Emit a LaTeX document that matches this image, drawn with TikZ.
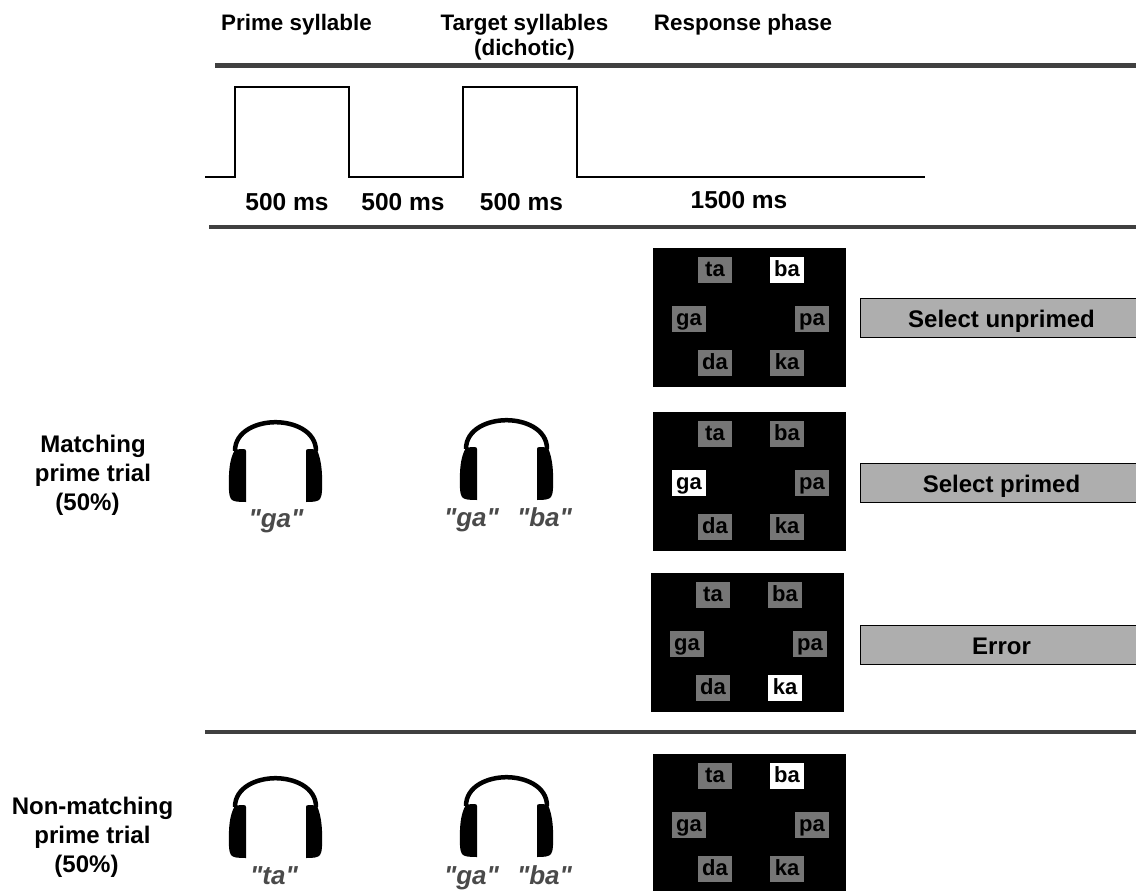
\documentclass[tikz,border=0pt]{standalone}
\usepackage{fontspec}
\setmainfont{Liberation Sans}[Ligatures=TeXOff]
\usepackage{xcolor}
\definecolor{rulegray}{HTML}{404040}
\definecolor{chipgray}{HTML}{767676}
\definecolor{bargray}{HTML}{AEAEAE}
\definecolor{speechgray}{HTML}{4A4A4A}
\tikzset{
  heading/.style={font=\fontsize{22.4}{25}\selectfont\bfseries, align=center, inner sep=0pt, anchor=base},
  duration/.style={font=\fontsize{24.5}{26}\selectfont\bfseries, inner sep=0pt, anchor=base},
  trial/.style={font=\fontsize{24}{29}\selectfont\bfseries, align=center, inner sep=0pt, anchor=base},
  speech/.style={font=\fontsize{26}{28}\selectfont\bfseries\itshape, text=speechgray, inner sep=0pt, anchor=base},
  chip/.style={fill=chipgray, minimum width=34pt, inner sep=0pt, text height=19pt, text depth=7pt, font=\fontsize{22}{24}\selectfont\bfseries},
  outcome/.style={draw=black, line width=0.7pt, fill=bargray, minimum width=283pt, inner sep=0pt, text height=28.5pt, text depth=10.5pt, font=\fontsize{24}{26}\selectfont\bfseries},
}
\begin{document}
\begin{tikzpicture}[x=1pt,y=-1pt]
  \useasboundingbox (0,0) rectangle (1136,891);
  % header
  \node[heading] (primehead) at (296.5,31) {Prime syllable};
  \node[heading] (targethead) at (524.5,56) {Target syllables\\(dichotic)};
  \node[heading] (resphead) at (743,31) {Response phase};
  \foreach \rx/\ry in {215/65.5,209/227,205/732}{ \draw[rulegray,line width=4.5pt] (\rx,\ry) -- (1136,\ry); }
  % timeline
  \draw[line width=2pt,line join=miter] (205,177) -- (235,177) -- (235,87) -- (349,87) -- (349,177) -- (463,177) -- (463,87) -- (577,87) -- (577,177) -- (925,177);
  \node[duration] (durone) at (287,210) {500 ms};
  \node[duration] (durtwo) at (403,210) {500 ms};
  \node[duration] (durthree) at (521.5,210) {500 ms};
  \node[duration] (durfour) at (739,208) {1500 ms};
  % trial labels
  \node[trial] (matching) at (93,510) {Matching\\prime trial\\\hspace*{-11pt}(50\%)};
  \node[trial] (nonmatching) at (92.5,872) {Non-matching\\prime trial\\\hspace*{-12pt}(50\%)};
  % headphones
  \foreach \hx/\hy in {229/420,460/418,229/776,460/775}{
    \begin{scope}[shift={(\hx,\hy)}]
      \draw[line width=4.5pt] (6,31) .. controls (6,11) and (28,2.2) .. (46.5,2.2) .. controls (65,2.2) and (87,11) .. (87,31);
      \fill (17,31) .. controls (17,29.5) and (16,29) .. (14,29) -- (6,29.5) .. controls (3,35) and (0.5,42) .. (0,55) .. controls (-0.5,70) and (0,76) .. (2,79) .. controls (4,81.5) and (8,82) .. (17,82) -- cycle;
      \fill (77,31) .. controls (77,29.5) and (78,29) .. (80,29) -- (88,29.5) .. controls (90,35) and (92.5,42) .. (93,55) .. controls (93.5,70) and (93,76) .. (91,79) .. controls (89,81.5) and (85,82) .. (77,82) -- cycle;
    \end{scope}
  }
  \node[speech] (primeone) at (276,527) {"ga"};
  \node[speech] (leftone) at (471.5,526) {"ga"};
  \node[speech] (rightone) at (544.5,526) {"ba"};
  \node[speech] (primetwo) at (274,884) {"ta"};
  \node[speech] (lefttwo) at (471.5,884) {"ga"};
  \node[speech] (righttwo) at (544.5,884) {"ba"};
  % response screens, the last value is the lit syllable
  \foreach \sx/\sy/\sn/\lit in {653/248/a/ba,653/412/b/ga,651/573/c/ka,653/754/d/ba}{
    \fill (\sx,\sy) rectangle (\sx+193,\sy+139);
    \foreach \cx/\cy/\syl in {62/22/ta,134/22/ba,36/71/ga,159/71/pa,62/115/da,134/115/ka}{
      \ifx\syl\lit
        \node[chip,fill=white] (\sn\syl) at (\sx+\cx,\sy+\cy) {\syl};
      \else
        \node[chip] (\sn\syl) at (\sx+\cx,\sy+\cy) {\syl};
      \fi
    }
  }
  % outcome bars
  \foreach \by/\oname/\lab in {318/unprimed/Select unprimed,483/primed/Select primed,645/error/Error}{
    \node[outcome] (\oname) at (1001.5,\by) {\lab};
  }
\end{tikzpicture}
\end{document}
